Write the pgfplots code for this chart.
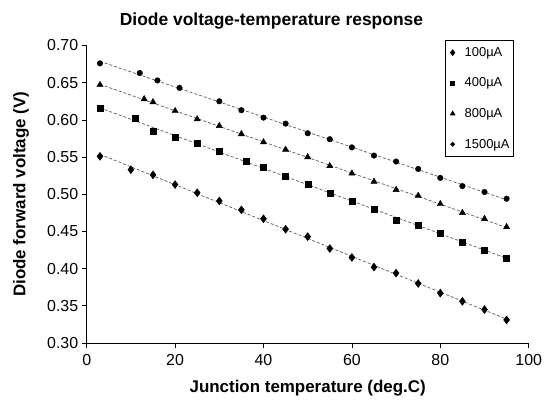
\documentclass[border=0pt]{standalone}
\usepackage{pgfplots}
\usepackage{pgfplotstable}
\pgfplotsset{compat=1.18}
\usepackage{fontspec}
\setmainfont{Liberation Sans}
\definecolor{trend}{RGB}{90,90,90}

\pgfplotstableread{
T V
3 0.551
10 0.533
15 0.526
20 0.513
25 0.502
30 0.491
35 0.479
40 0.467
45 0.453
50 0.443
55 0.427
60 0.415
65 0.402
70 0.394
75 0.380
80 0.367
85 0.356
90 0.345
95 0.331
}\tA
\pgfplotstableread{
T V
3 0.616
11 0.602
15 0.585
20 0.577
25 0.569
30 0.558
36 0.544
40 0.536
45 0.524
50 0.514
55 0.502
60 0.491
65 0.480
70 0.465
75 0.458
80 0.448
85 0.436
90 0.425
95 0.414
}\tB
\pgfplotstableread{
T V
3 0.647
13 0.628
15 0.624
20 0.612
25 0.601
30 0.592
35 0.581
40 0.570
45 0.560
50 0.550
55 0.538
60 0.528
65 0.517
70 0.506
75 0.498
80 0.487
85 0.475
90 0.467
95 0.456
}\tC
\pgfplotstableread{
T V
3 0.676
12 0.663
16 0.653
21 0.643
30 0.625
35 0.613
40 0.603
45 0.595
50 0.582
55 0.574
60 0.563
65 0.552
70 0.544
75 0.534
80 0.522
85 0.511
90 0.503
95 0.494
}\tD

\begin{document}
\begin{tikzpicture}
\useasboundingbox (-86.7bp,-58bp) rectangle (457.3bp,343bp);
\begin{axis}[
  scale only axis,
  width=442bp, height=297.5bp,
  xmin=0, xmax=100, ymin=0.30, ymax=0.70,
  axis lines=left,
  axis line style={-, black, line width=0.8bp},
  xtick={0,20,...,100},
  ytick={0.30,0.35,...,0.701},
  yticklabel style={/pgf/number format/.cd, fixed, fixed zerofill, precision=2},
  xticklabel style={yshift=-3bp},
  /pgf/number format/assume math mode=true,
  tick align=outside,
  major tick length=5bp,
  tick style={black, line width=0.7bp},
  ticklabel style={font=\fontsize{16}{19}\selectfont},
  title={\textbf{Diode voltage-temperature response}},
  title style={font=\fontsize{17.5}{20}\selectfont, at={(axis description cs:0.418,1.062)}, anchor=center},
  xlabel={\textbf{Junction temperature (deg.C)}},
  xlabel style={font=\fontsize{17}{20}\selectfont, at={(axis description cs:0.5,-0.153)}, anchor=center},
  ylabel={\textbf{Diode forward voltage (V)}},
  ylabel style={font=\fontsize{17}{20}\selectfont, at={(axis description cs:-0.1486,0.5)}, anchor=center},
  legend style={at={(axis description cs:0.9667,1.0185)}, anchor=north east,
    draw=black, line width=0.8bp, font=\fontsize{13}{15}\selectfont,
    row sep=16bp, inner xsep=2bp, inner ysep=5bp, cells={anchor=west}},
  legend image code/.code={\path[draw=none,fill=none] (0,0) -- (15bp,0); \draw[#1, mark options={scale=0.7}] plot coordinates {(5bp,0)};},
]
\addplot[trend, densely dashed, line width=0.7bp, forget plot] table[x=T, y={create col/linear regression={y=V}}] {\tA};
\addplot[trend, densely dashed, line width=0.7bp, forget plot] table[x=T, y={create col/linear regression={y=V}}] {\tB};
\addplot[trend, densely dashed, line width=0.7bp, forget plot] table[x=T, y={create col/linear regression={y=V}}] {\tC};
\addplot[trend, densely dashed, line width=0.7bp, forget plot] table[x=T, y={create col/linear regression={y=V}}] {\tD};
\addplot[only marks, mark=diamond*, mark size=4bp, black] table[x=T, y=V] {\tA};
\addplot[only marks, mark=square*, mark size=3bp, black] table[x=T, y=V] {\tB};
\addplot[only marks, mark=triangle*, mark size=3.6bp, black] table[x=T, y=V] {\tC};
\addplot[only marks, mark=*, mark size=2.8bp, black] table[x=T, y=V] {\tD};
\legend{100µA, 400µA, 800µA, 1500µA}
\end{axis}
\end{tikzpicture}
\end{document}
